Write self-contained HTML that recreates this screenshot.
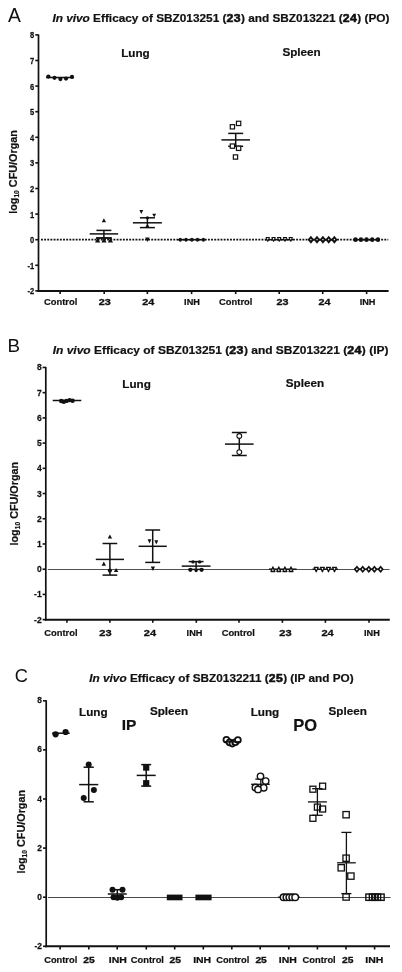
<!DOCTYPE html>
<html><head><meta charset="utf-8"><style>
html,body{margin:0;padding:0;background:#fff;overflow:hidden;width:402px;height:972px;}
svg{display:block;font-family:"Liberation Sans", sans-serif;will-change:transform;}
text{fill:#111;}
text[font-weight=bold]:not([stroke]){stroke:#111;stroke-width:0.2px;}
.num{font-size:11.4px;stroke:#111;stroke-width:0.6px;letter-spacing:0.4px;}
</style></head><body>
<svg width="402" height="972" viewBox="0 0 402 972">
<rect width="402" height="972" fill="#fff"/>
<text x="8.00" y="21.70" font-size="19.3" font-weight="normal" text-anchor="start"  style="">A</text>
<text transform="translate(52.4,22.4) scale(1.076,1)" font-size="11" font-weight="bold"><tspan font-style="italic">In vivo</tspan> Efficacy of SBZ013251 (<tspan class="num">23</tspan>) and SBZ013221 (<tspan class="num">24</tspan>) (PO)</text>
<line x1="38.50" y1="34.40" x2="38.50" y2="291.90" stroke="#111" stroke-width="1.7" />
<line x1="35.30" y1="34.90" x2="38.50" y2="34.90" stroke="#111" stroke-width="1.6" />
<text transform="translate(34.30,38.42) scale(0.86,1)" text-anchor="end" font-size="8.8" font-weight="bold" stroke="#111" stroke-width="0.25">8</text>
<line x1="35.30" y1="60.50" x2="38.50" y2="60.50" stroke="#111" stroke-width="1.6" />
<text transform="translate(34.30,64.02) scale(0.86,1)" text-anchor="end" font-size="8.8" font-weight="bold" stroke="#111" stroke-width="0.25">7</text>
<line x1="35.30" y1="86.10" x2="38.50" y2="86.10" stroke="#111" stroke-width="1.6" />
<text transform="translate(34.30,89.62) scale(0.86,1)" text-anchor="end" font-size="8.8" font-weight="bold" stroke="#111" stroke-width="0.25">6</text>
<line x1="35.30" y1="111.70" x2="38.50" y2="111.70" stroke="#111" stroke-width="1.6" />
<text transform="translate(34.30,115.22) scale(0.86,1)" text-anchor="end" font-size="8.8" font-weight="bold" stroke="#111" stroke-width="0.25">5</text>
<line x1="35.30" y1="137.30" x2="38.50" y2="137.30" stroke="#111" stroke-width="1.6" />
<text transform="translate(34.30,140.82) scale(0.86,1)" text-anchor="end" font-size="8.8" font-weight="bold" stroke="#111" stroke-width="0.25">4</text>
<line x1="35.30" y1="162.90" x2="38.50" y2="162.90" stroke="#111" stroke-width="1.6" />
<text transform="translate(34.30,166.42) scale(0.86,1)" text-anchor="end" font-size="8.8" font-weight="bold" stroke="#111" stroke-width="0.25">3</text>
<line x1="35.30" y1="188.50" x2="38.50" y2="188.50" stroke="#111" stroke-width="1.6" />
<text transform="translate(34.30,192.02) scale(0.86,1)" text-anchor="end" font-size="8.8" font-weight="bold" stroke="#111" stroke-width="0.25">2</text>
<line x1="35.30" y1="214.10" x2="38.50" y2="214.10" stroke="#111" stroke-width="1.6" />
<text transform="translate(34.30,217.62) scale(0.86,1)" text-anchor="end" font-size="8.8" font-weight="bold" stroke="#111" stroke-width="0.25">1</text>
<line x1="35.30" y1="239.70" x2="38.50" y2="239.70" stroke="#111" stroke-width="1.6" />
<text transform="translate(34.30,243.22) scale(0.86,1)" text-anchor="end" font-size="8.8" font-weight="bold" stroke="#111" stroke-width="0.25">0</text>
<line x1="35.30" y1="265.30" x2="38.50" y2="265.30" stroke="#111" stroke-width="1.6" />
<text transform="translate(34.30,268.82) scale(0.86,1)" text-anchor="end" font-size="8.8" font-weight="bold" stroke="#111" stroke-width="0.25">-1</text>
<line x1="35.30" y1="290.90" x2="38.50" y2="290.90" stroke="#111" stroke-width="1.6" />
<text transform="translate(34.30,294.42) scale(0.86,1)" text-anchor="end" font-size="8.8" font-weight="bold" stroke="#111" stroke-width="0.25">-2</text>
<line x1="37.50" y1="290.90" x2="388.60" y2="290.90" stroke="#111" stroke-width="2" />
<line x1="60.10" y1="290.90" x2="60.10" y2="294.10" stroke="#111" stroke-width="1.6" />
<line x1="104.20" y1="290.90" x2="104.20" y2="294.10" stroke="#111" stroke-width="1.6" />
<line x1="147.40" y1="290.90" x2="147.40" y2="294.10" stroke="#111" stroke-width="1.6" />
<line x1="191.60" y1="290.90" x2="191.60" y2="294.10" stroke="#111" stroke-width="1.6" />
<line x1="235.70" y1="290.90" x2="235.70" y2="294.10" stroke="#111" stroke-width="1.6" />
<line x1="279.20" y1="290.90" x2="279.20" y2="294.10" stroke="#111" stroke-width="1.6" />
<line x1="322.70" y1="290.90" x2="322.70" y2="294.10" stroke="#111" stroke-width="1.6" />
<line x1="366.60" y1="290.90" x2="366.60" y2="294.10" stroke="#111" stroke-width="1.6" />
<text x="60.65" y="305.40" font-size="9.4" font-weight="bold" text-anchor="middle"  style="">Control</text>
<text transform="translate(104.70,304.70) scale(1.2,1)" font-size="9.0" font-weight="bold" text-anchor="middle" stroke="#111" stroke-width="0.3">23</text>
<text transform="translate(148.30,304.70) scale(1.2,1)" font-size="9.0" font-weight="bold" text-anchor="middle" stroke="#111" stroke-width="0.3">24</text>
<text x="192.00" y="305.40" font-size="9.2" font-weight="bold" text-anchor="middle"  style="">INH</text>
<text x="235.70" y="305.40" font-size="9.4" font-weight="bold" text-anchor="middle"  style="">Control</text>
<text transform="translate(282.40,304.70) scale(1.2,1)" font-size="9.0" font-weight="bold" text-anchor="middle" stroke="#111" stroke-width="0.3">23</text>
<text transform="translate(324.40,304.70) scale(1.2,1)" font-size="9.0" font-weight="bold" text-anchor="middle" stroke="#111" stroke-width="0.3">24</text>
<text x="367.60" y="305.40" font-size="9.2" font-weight="bold" text-anchor="middle"  style="">INH</text>
<text transform="translate(17.20,172.00) rotate(-90)" text-anchor="middle" font-size="10.8" font-weight="bold">log<tspan font-size="6.70" dy="1.84">10</tspan><tspan dy="-1.84"> CFU/Organ</tspan></text>
<text transform="translate(121.20,56.70) scale(1.045,1)" font-size="11.2" font-weight="bold">Lung</text>
<text transform="translate(282.40,56.40) scale(1.045,1)" font-size="11.2" font-weight="bold">Spleen</text>
<line x1="41.00" y1="239.70" x2="388.30" y2="239.70" stroke="#111" stroke-width="1.8" stroke-dasharray="1.9 1.25"/>
<line x1="46.00" y1="77.50" x2="73.80" y2="77.50" stroke="#111" stroke-width="1.5" />
<circle cx="48.40" cy="76.60" r="2.1" fill="#111"/>
<circle cx="54.50" cy="77.80" r="2.1" fill="#111"/>
<circle cx="60.40" cy="79.10" r="2.1" fill="#111"/>
<circle cx="66.00" cy="78.60" r="2.1" fill="#111"/>
<circle cx="72.00" cy="76.90" r="2.1" fill="#111"/>
<line x1="103.90" y1="230.40" x2="103.90" y2="238.00" stroke="#111" stroke-width="1.5" />
<line x1="96.40" y1="230.40" x2="111.40" y2="230.40" stroke="#111" stroke-width="1.5" />
<line x1="96.40" y1="238.00" x2="111.40" y2="238.00" stroke="#111" stroke-width="1.5" />
<line x1="89.65" y1="233.90" x2="118.15" y2="233.90" stroke="#111" stroke-width="1.5" />
<polygon points="101.75,222.20 106.05,222.20 103.90,218.20" fill="#111" />
<line x1="96.00" y1="238.00" x2="112.00" y2="238.00" stroke="#111" stroke-width="1.5" />
<polygon points="95.00,242.54 100.20,242.54 97.60,237.86" fill="#111" />
<polygon points="101.40,242.54 106.60,242.54 104.00,237.86" fill="#111" />
<polygon points="107.80,242.54 113.00,242.54 110.40,237.86" fill="#111" />
<line x1="147.40" y1="217.80" x2="147.40" y2="227.60" stroke="#111" stroke-width="1.5" />
<line x1="139.90" y1="217.80" x2="154.90" y2="217.80" stroke="#111" stroke-width="1.5" />
<line x1="139.90" y1="227.60" x2="154.90" y2="227.60" stroke="#111" stroke-width="1.5" />
<line x1="132.90" y1="222.80" x2="161.90" y2="222.80" stroke="#111" stroke-width="1.5" />
<polygon points="139.40,210.00 143.20,210.00 141.30,214.00" fill="#111" />
<polygon points="152.20,213.70 156.20,213.70 154.20,217.30" fill="#111" />
<circle cx="147.40" cy="217.80" r="1.6" fill="#111"/>
<circle cx="147.40" cy="226.50" r="1.6" fill="#111"/>
<polygon points="145.20,237.50 149.60,237.50 147.40,242.10" fill="#111" />
<line x1="177.50" y1="239.70" x2="205.50" y2="239.70" stroke="#111" stroke-width="1.5" />
<ellipse cx="180.30" cy="239.70" rx="1.6" ry="2.0" fill="#111"/>
<ellipse cx="186.00" cy="239.70" rx="1.6" ry="2.0" fill="#111"/>
<ellipse cx="191.90" cy="239.70" rx="1.6" ry="2.0" fill="#111"/>
<ellipse cx="197.50" cy="239.70" rx="1.6" ry="2.0" fill="#111"/>
<ellipse cx="203.40" cy="239.70" rx="1.6" ry="2.0" fill="#111"/>
<line x1="235.70" y1="133.40" x2="235.70" y2="146.30" stroke="#111" stroke-width="1.5" />
<line x1="228.20" y1="133.40" x2="243.20" y2="133.40" stroke="#111" stroke-width="1.5" />
<line x1="228.20" y1="146.30" x2="243.20" y2="146.30" stroke="#111" stroke-width="1.5" />
<line x1="221.40" y1="139.90" x2="250.00" y2="139.90" stroke="#111" stroke-width="1.5" />
<rect x="230.25" y="124.65" width="4.3" height="4.3" fill="#fff" stroke="#111" stroke-width="1.2"/>
<rect x="236.45" y="121.25" width="4.3" height="4.3" fill="#fff" stroke="#111" stroke-width="1.2"/>
<rect x="230.25" y="143.95" width="4.3" height="4.3" fill="#fff" stroke="#111" stroke-width="1.2"/>
<rect x="236.45" y="146.15" width="4.3" height="4.3" fill="#fff" stroke="#111" stroke-width="1.2"/>
<rect x="233.35" y="154.85" width="4.3" height="4.3" fill="#fff" stroke="#111" stroke-width="1.2"/>
<line x1="265.00" y1="239.70" x2="293.00" y2="239.70" stroke="#111" stroke-width="1.5" />
<polygon points="266.15,237.45 269.45,237.45 267.80,241.35" fill="#fff" stroke="#111" stroke-width="1.05" stroke-linejoin="round"/>
<polygon points="271.95,237.45 275.25,237.45 273.60,241.35" fill="#fff" stroke="#111" stroke-width="1.05" stroke-linejoin="round"/>
<polygon points="277.55,237.45 280.85,237.45 279.20,241.35" fill="#fff" stroke="#111" stroke-width="1.05" stroke-linejoin="round"/>
<polygon points="283.35,237.45 286.65,237.45 285.00,241.35" fill="#fff" stroke="#111" stroke-width="1.05" stroke-linejoin="round"/>
<polygon points="289.15,237.45 292.45,237.45 290.80,241.35" fill="#fff" stroke="#111" stroke-width="1.05" stroke-linejoin="round"/>
<line x1="309.00" y1="239.70" x2="336.00" y2="239.70" stroke="#111" stroke-width="1.5" />
<polygon points="308.90,239.70 310.90,237.20 312.90,239.70 310.90,242.20" fill="#fff" stroke="#111" stroke-width="1.9"/>
<polygon points="315.00,239.70 317.00,237.20 319.00,239.70 317.00,242.20" fill="#fff" stroke="#111" stroke-width="1.9"/>
<polygon points="320.90,239.70 322.90,237.20 324.90,239.70 322.90,242.20" fill="#fff" stroke="#111" stroke-width="1.9"/>
<polygon points="326.70,239.70 328.70,237.20 330.70,239.70 328.70,242.20" fill="#fff" stroke="#111" stroke-width="1.9"/>
<polygon points="332.40,239.70 334.40,237.20 336.40,239.70 334.40,242.20" fill="#fff" stroke="#111" stroke-width="1.9"/>
<line x1="353.00" y1="239.70" x2="380.00" y2="239.70" stroke="#111" stroke-width="1.5" />
<ellipse cx="355.50" cy="239.70" rx="2.2" ry="2.4" fill="#111"/>
<ellipse cx="360.90" cy="239.70" rx="2.2" ry="2.4" fill="#111"/>
<ellipse cx="366.50" cy="239.70" rx="2.2" ry="2.4" fill="#111"/>
<ellipse cx="372.20" cy="239.70" rx="2.2" ry="2.4" fill="#111"/>
<ellipse cx="378.00" cy="239.70" rx="2.2" ry="2.4" fill="#111"/>
<text x="7.60" y="351.90" font-size="18.8" font-weight="normal" text-anchor="start"  style="">B</text>
<text transform="translate(52.7,353.5) scale(1.09,1)" font-size="11" font-weight="bold"><tspan font-style="italic">In vivo</tspan> Efficacy of SBZ013251 (<tspan class="num">23</tspan>) and SBZ013221 (<tspan class="num">24</tspan>) (IP)</text>
<line x1="45.80" y1="366.94" x2="45.80" y2="620.64" stroke="#111" stroke-width="1.7" />
<line x1="42.60" y1="367.44" x2="45.80" y2="367.44" stroke="#111" stroke-width="1.6" />
<text transform="translate(41.70,370.41) scale(0.95,1)" text-anchor="end" font-size="9.0" font-weight="bold" stroke="#111" stroke-width="0.25">8</text>
<line x1="42.60" y1="392.66" x2="45.80" y2="392.66" stroke="#111" stroke-width="1.6" />
<text transform="translate(41.70,395.63) scale(0.95,1)" text-anchor="end" font-size="9.0" font-weight="bold" stroke="#111" stroke-width="0.25">7</text>
<line x1="42.60" y1="417.88" x2="45.80" y2="417.88" stroke="#111" stroke-width="1.6" />
<text transform="translate(41.70,420.85) scale(0.95,1)" text-anchor="end" font-size="9.0" font-weight="bold" stroke="#111" stroke-width="0.25">6</text>
<line x1="42.60" y1="443.10" x2="45.80" y2="443.10" stroke="#111" stroke-width="1.6" />
<text transform="translate(41.70,446.07) scale(0.95,1)" text-anchor="end" font-size="9.0" font-weight="bold" stroke="#111" stroke-width="0.25">5</text>
<line x1="42.60" y1="468.32" x2="45.80" y2="468.32" stroke="#111" stroke-width="1.6" />
<text transform="translate(41.70,471.29) scale(0.95,1)" text-anchor="end" font-size="9.0" font-weight="bold" stroke="#111" stroke-width="0.25">4</text>
<line x1="42.60" y1="493.54" x2="45.80" y2="493.54" stroke="#111" stroke-width="1.6" />
<text transform="translate(41.70,496.51) scale(0.95,1)" text-anchor="end" font-size="9.0" font-weight="bold" stroke="#111" stroke-width="0.25">3</text>
<line x1="42.60" y1="518.76" x2="45.80" y2="518.76" stroke="#111" stroke-width="1.6" />
<text transform="translate(41.70,521.73) scale(0.95,1)" text-anchor="end" font-size="9.0" font-weight="bold" stroke="#111" stroke-width="0.25">2</text>
<line x1="42.60" y1="543.98" x2="45.80" y2="543.98" stroke="#111" stroke-width="1.6" />
<text transform="translate(41.70,546.95) scale(0.95,1)" text-anchor="end" font-size="9.0" font-weight="bold" stroke="#111" stroke-width="0.25">1</text>
<line x1="42.60" y1="569.20" x2="45.80" y2="569.20" stroke="#111" stroke-width="1.6" />
<text transform="translate(41.70,572.17) scale(0.95,1)" text-anchor="end" font-size="9.0" font-weight="bold" stroke="#111" stroke-width="0.25">0</text>
<line x1="42.60" y1="594.42" x2="45.80" y2="594.42" stroke="#111" stroke-width="1.6" />
<text transform="translate(41.70,597.39) scale(0.95,1)" text-anchor="end" font-size="9.0" font-weight="bold" stroke="#111" stroke-width="0.25">-1</text>
<line x1="42.60" y1="619.64" x2="45.80" y2="619.64" stroke="#111" stroke-width="1.6" />
<text transform="translate(41.70,622.61) scale(0.95,1)" text-anchor="end" font-size="9.0" font-weight="bold" stroke="#111" stroke-width="0.25">-2</text>
<line x1="44.80" y1="619.64" x2="389.80" y2="619.64" stroke="#111" stroke-width="2" />
<line x1="66.90" y1="619.64" x2="66.90" y2="622.84" stroke="#111" stroke-width="1.6" />
<line x1="109.90" y1="619.64" x2="109.90" y2="622.84" stroke="#111" stroke-width="1.6" />
<line x1="152.80" y1="619.64" x2="152.80" y2="622.84" stroke="#111" stroke-width="1.6" />
<line x1="196.30" y1="619.64" x2="196.30" y2="622.84" stroke="#111" stroke-width="1.6" />
<line x1="239.00" y1="619.64" x2="239.00" y2="622.84" stroke="#111" stroke-width="1.6" />
<line x1="282.40" y1="619.64" x2="282.40" y2="622.84" stroke="#111" stroke-width="1.6" />
<line x1="325.40" y1="619.64" x2="325.40" y2="622.84" stroke="#111" stroke-width="1.6" />
<line x1="369.00" y1="619.64" x2="369.00" y2="622.84" stroke="#111" stroke-width="1.6" />
<text x="60.90" y="636.40" font-size="9.4" font-weight="bold" text-anchor="middle"  style="">Control</text>
<text transform="translate(105.50,636.30) scale(1.2,1)" font-size="9.2" font-weight="bold" text-anchor="middle" stroke="#111" stroke-width="0.3">23</text>
<text transform="translate(150.00,636.30) scale(1.2,1)" font-size="9.2" font-weight="bold" text-anchor="middle" stroke="#111" stroke-width="0.3">24</text>
<text x="194.50" y="636.40" font-size="9.2" font-weight="bold" text-anchor="middle"  style="">INH</text>
<text x="238.30" y="636.40" font-size="9.4" font-weight="bold" text-anchor="middle"  style="">Control</text>
<text transform="translate(285.50,636.30) scale(1.2,1)" font-size="9.2" font-weight="bold" text-anchor="middle" stroke="#111" stroke-width="0.3">23</text>
<text transform="translate(327.60,636.30) scale(1.2,1)" font-size="9.2" font-weight="bold" text-anchor="middle" stroke="#111" stroke-width="0.3">24</text>
<text x="371.90" y="636.40" font-size="9.2" font-weight="bold" text-anchor="middle"  style="">INH</text>
<text transform="translate(18.20,503.70) rotate(-90)" text-anchor="middle" font-size="10.8" font-weight="bold">log<tspan font-size="6.70" dy="1.84">10</tspan><tspan dy="-1.84"> CFU/Organ</tspan></text>
<text transform="translate(122.30,387.50) scale(1.045,1)" font-size="11.2" font-weight="bold">Lung</text>
<text transform="translate(285.80,387.20) scale(1.045,1)" font-size="11.2" font-weight="bold">Spleen</text>
<line x1="47.80" y1="569.50" x2="389.60" y2="569.50" stroke="#505050" stroke-width="1.0" />
<line x1="52.70" y1="400.50" x2="81.30" y2="400.50" stroke="#111" stroke-width="1.5" />
<circle cx="61.20" cy="401.00" r="2.2" fill="#111"/>
<circle cx="63.80" cy="401.80" r="2.2" fill="#111"/>
<circle cx="66.60" cy="400.90" r="2.2" fill="#111"/>
<circle cx="69.60" cy="400.10" r="2.2" fill="#111"/>
<circle cx="72.60" cy="400.70" r="2.2" fill="#111"/>
<line x1="109.90" y1="543.50" x2="109.90" y2="575.10" stroke="#111" stroke-width="1.5" />
<line x1="102.55" y1="543.50" x2="117.25" y2="543.50" stroke="#111" stroke-width="1.5" />
<line x1="102.55" y1="575.10" x2="117.25" y2="575.10" stroke="#111" stroke-width="1.5" />
<line x1="95.80" y1="559.40" x2="124.00" y2="559.40" stroke="#111" stroke-width="1.5" />
<polygon points="107.70,538.60 112.10,538.60 109.90,534.40" fill="#111" />
<polygon points="101.60,565.70 106.00,565.70 103.80,561.50" fill="#111" />
<polygon points="113.90,572.10 118.30,572.10 116.10,567.90" fill="#111" />
<circle cx="109.90" cy="570.60" r="2.1" fill="#111"/>
<line x1="152.70" y1="530.00" x2="152.70" y2="562.40" stroke="#111" stroke-width="1.5" />
<line x1="145.25" y1="530.00" x2="160.15" y2="530.00" stroke="#111" stroke-width="1.5" />
<line x1="145.25" y1="562.40" x2="160.15" y2="562.40" stroke="#111" stroke-width="1.5" />
<line x1="138.60" y1="546.30" x2="166.80" y2="546.30" stroke="#111" stroke-width="1.5" />
<polygon points="147.60,539.20 151.40,539.20 149.50,543.40" fill="#111" />
<polygon points="154.40,540.30 158.20,540.30 156.30,544.50" fill="#111" />
<polygon points="150.80,566.50 155.00,566.50 152.90,571.10" fill="#111" />
<line x1="196.10" y1="561.60" x2="196.10" y2="569.40" stroke="#111" stroke-width="1.5" />
<line x1="188.70" y1="561.60" x2="203.50" y2="561.60" stroke="#111" stroke-width="1.5" />
<line x1="188.70" y1="569.40" x2="203.50" y2="569.40" stroke="#111" stroke-width="1.5" />
<line x1="181.70" y1="566.10" x2="210.50" y2="566.10" stroke="#111" stroke-width="1.5" />
<circle cx="193.00" cy="561.90" r="1.7" fill="#111"/>
<circle cx="199.60" cy="561.90" r="1.7" fill="#111"/>
<circle cx="190.30" cy="569.80" r="2.1" fill="#111"/>
<circle cx="201.60" cy="569.80" r="2.1" fill="#111"/>
<circle cx="196.10" cy="570.60" r="1.6" fill="#111"/>
<line x1="239.30" y1="432.50" x2="239.30" y2="455.50" stroke="#111" stroke-width="1.5" />
<line x1="231.85" y1="432.50" x2="246.75" y2="432.50" stroke="#111" stroke-width="1.5" />
<line x1="231.85" y1="455.50" x2="246.75" y2="455.50" stroke="#111" stroke-width="1.5" />
<line x1="225.00" y1="444.10" x2="253.60" y2="444.10" stroke="#111" stroke-width="1.5" />
<circle cx="239.30" cy="436.00" r="2.4" fill="#fff" stroke="#111" stroke-width="1.1"/>
<circle cx="239.30" cy="452.10" r="2.4" fill="#fff" stroke="#111" stroke-width="1.1"/>
<line x1="269.00" y1="569.20" x2="296.60" y2="569.20" stroke="#111" stroke-width="1.5" />
<polygon points="270.95,571.50 274.85,571.50 272.90,566.90" fill="#fff" stroke="#111" stroke-width="1.3" stroke-linejoin="round"/>
<polygon points="276.85,571.50 280.75,571.50 278.80,566.90" fill="#fff" stroke="#111" stroke-width="1.3" stroke-linejoin="round"/>
<polygon points="282.95,571.50 286.85,571.50 284.90,566.90" fill="#fff" stroke="#111" stroke-width="1.3" stroke-linejoin="round"/>
<polygon points="289.05,571.50 292.95,571.50 291.00,566.90" fill="#fff" stroke="#111" stroke-width="1.3" stroke-linejoin="round"/>
<line x1="312.50" y1="569.20" x2="338.00" y2="569.20" stroke="#111" stroke-width="1.5" />
<polygon points="314.25,567.30 318.15,567.30 316.20,571.70" fill="#fff" stroke="#111" stroke-width="1.3" stroke-linejoin="round"/>
<polygon points="320.45,567.30 324.35,567.30 322.40,571.70" fill="#fff" stroke="#111" stroke-width="1.3" stroke-linejoin="round"/>
<polygon points="326.55,567.30 330.45,567.30 328.50,571.70" fill="#fff" stroke="#111" stroke-width="1.3" stroke-linejoin="round"/>
<polygon points="332.55,567.30 336.45,567.30 334.50,571.70" fill="#fff" stroke="#111" stroke-width="1.3" stroke-linejoin="round"/>
<line x1="354.00" y1="569.20" x2="383.00" y2="569.20" stroke="#111" stroke-width="1.5" />
<polygon points="354.80,569.20 356.90,566.70 359.00,569.20 356.90,571.70" fill="#fff" stroke="#111" stroke-width="1.7"/>
<polygon points="360.60,569.20 362.70,566.70 364.80,569.20 362.70,571.70" fill="#fff" stroke="#111" stroke-width="1.7"/>
<polygon points="366.70,569.20 368.80,566.70 370.90,569.20 368.80,571.70" fill="#fff" stroke="#111" stroke-width="1.7"/>
<polygon points="372.30,569.20 374.40,566.70 376.50,569.20 374.40,571.70" fill="#fff" stroke="#111" stroke-width="1.7"/>
<polygon points="378.50,569.20 380.60,566.70 382.70,569.20 380.60,571.70" fill="#fff" stroke="#111" stroke-width="1.7"/>
<text x="14.80" y="681.60" font-size="18.2" font-weight="normal" text-anchor="start"  style="">C</text>
<text transform="translate(89.3,681.8) scale(1.072,1)" font-size="11" font-weight="bold"><tspan font-style="italic">In vivo</tspan> Efficacy of SBZ0132211 (<tspan class="num">25</tspan>) (IP and PO)</text>
<line x1="46.20" y1="700.30" x2="46.20" y2="947.30" stroke="#111" stroke-width="1.7" />
<line x1="43.00" y1="700.80" x2="46.20" y2="700.80" stroke="#111" stroke-width="1.6" />
<text transform="translate(41.90,703.35) scale(0.95,1)" text-anchor="end" font-size="8.8" font-weight="bold" stroke="#111" stroke-width="0.25">8</text>
<line x1="43.00" y1="749.90" x2="46.20" y2="749.90" stroke="#111" stroke-width="1.6" />
<text transform="translate(41.90,752.45) scale(0.95,1)" text-anchor="end" font-size="8.8" font-weight="bold" stroke="#111" stroke-width="0.25">6</text>
<line x1="43.00" y1="799.00" x2="46.20" y2="799.00" stroke="#111" stroke-width="1.6" />
<text transform="translate(41.90,801.55) scale(0.95,1)" text-anchor="end" font-size="8.8" font-weight="bold" stroke="#111" stroke-width="0.25">4</text>
<line x1="43.00" y1="848.10" x2="46.20" y2="848.10" stroke="#111" stroke-width="1.6" />
<text transform="translate(41.90,850.65) scale(0.95,1)" text-anchor="end" font-size="8.8" font-weight="bold" stroke="#111" stroke-width="0.25">2</text>
<line x1="43.00" y1="897.20" x2="46.20" y2="897.20" stroke="#111" stroke-width="1.6" />
<text transform="translate(41.90,899.75) scale(0.95,1)" text-anchor="end" font-size="8.8" font-weight="bold" stroke="#111" stroke-width="0.25">0</text>
<line x1="43.00" y1="946.30" x2="46.20" y2="946.30" stroke="#111" stroke-width="1.6" />
<text transform="translate(41.90,948.85) scale(0.95,1)" text-anchor="end" font-size="8.8" font-weight="bold" stroke="#111" stroke-width="0.25">-2</text>
<line x1="45.20" y1="946.30" x2="390.00" y2="946.30" stroke="#111" stroke-width="2" />
<line x1="60.10" y1="946.30" x2="60.10" y2="949.50" stroke="#111" stroke-width="1.6" />
<line x1="88.80" y1="946.30" x2="88.80" y2="949.50" stroke="#111" stroke-width="1.6" />
<line x1="117.20" y1="946.30" x2="117.20" y2="949.50" stroke="#111" stroke-width="1.6" />
<line x1="146.30" y1="946.30" x2="146.30" y2="949.50" stroke="#111" stroke-width="1.6" />
<line x1="174.70" y1="946.30" x2="174.70" y2="949.50" stroke="#111" stroke-width="1.6" />
<line x1="203.30" y1="946.30" x2="203.30" y2="949.50" stroke="#111" stroke-width="1.6" />
<line x1="231.80" y1="946.30" x2="231.80" y2="949.50" stroke="#111" stroke-width="1.6" />
<line x1="260.20" y1="946.30" x2="260.20" y2="949.50" stroke="#111" stroke-width="1.6" />
<line x1="288.80" y1="946.30" x2="288.80" y2="949.50" stroke="#111" stroke-width="1.6" />
<line x1="317.40" y1="946.30" x2="317.40" y2="949.50" stroke="#111" stroke-width="1.6" />
<line x1="346.00" y1="946.30" x2="346.00" y2="949.50" stroke="#111" stroke-width="1.6" />
<line x1="374.60" y1="946.30" x2="374.60" y2="949.50" stroke="#111" stroke-width="1.6" />
<text transform="translate(60.70,963.10) scale(1.0,1)" font-size="9.3" font-weight="bold" text-anchor="middle">Control</text>
<text transform="translate(88.90,962.90) scale(1.25,1)" font-size="8.2" font-weight="bold" text-anchor="middle" stroke="#111" stroke-width="0.3">25</text>
<text transform="translate(117.85,962.90) scale(1.28,1)" font-size="8.2" font-weight="bold" text-anchor="middle" stroke="#111" stroke-width="0.2">INH</text>
<text transform="translate(147.40,963.10) scale(1.0,1)" font-size="9.3" font-weight="bold" text-anchor="middle">Control</text>
<text transform="translate(175.30,962.90) scale(1.25,1)" font-size="8.2" font-weight="bold" text-anchor="middle" stroke="#111" stroke-width="0.3">25</text>
<text transform="translate(202.15,962.90) scale(1.28,1)" font-size="8.2" font-weight="bold" text-anchor="middle" stroke="#111" stroke-width="0.2">INH</text>
<text transform="translate(232.70,963.10) scale(1.0,1)" font-size="9.3" font-weight="bold" text-anchor="middle">Control</text>
<text transform="translate(261.10,962.90) scale(1.25,1)" font-size="8.2" font-weight="bold" text-anchor="middle" stroke="#111" stroke-width="0.3">25</text>
<text transform="translate(287.75,962.90) scale(1.28,1)" font-size="8.2" font-weight="bold" text-anchor="middle" stroke="#111" stroke-width="0.2">INH</text>
<text transform="translate(319.15,963.10) scale(1.0,1)" font-size="9.3" font-weight="bold" text-anchor="middle">Control</text>
<text transform="translate(347.65,962.90) scale(1.25,1)" font-size="8.2" font-weight="bold" text-anchor="middle" stroke="#111" stroke-width="0.3">25</text>
<text transform="translate(374.25,962.90) scale(1.28,1)" font-size="8.2" font-weight="bold" text-anchor="middle" stroke="#111" stroke-width="0.2">INH</text>
<text transform="translate(25.30,831.80) rotate(-90)" text-anchor="middle" font-size="10.8" font-weight="bold">log<tspan font-size="6.70" dy="1.84">10</tspan><tspan dy="-1.84"> CFU/Organ</tspan></text>
<text transform="translate(79.00,715.70) scale(1.045,1)" font-size="11.2" font-weight="bold">Lung</text>
<text x="121.80" y="730.30" font-size="15.5" font-weight="bold" text-anchor="start"  style="">IP</text>
<text transform="translate(149.90,715.10) scale(1.045,1)" font-size="11.2" font-weight="bold">Spleen</text>
<text transform="translate(250.70,715.70) scale(1.045,1)" font-size="11.2" font-weight="bold">Lung</text>
<text x="293.20" y="730.60" font-size="16.5" font-weight="bold" text-anchor="start"  style="">PO</text>
<text transform="translate(328.50,715.10) scale(1.045,1)" font-size="11.2" font-weight="bold">Spleen</text>
<line x1="48.00" y1="897.50" x2="390.60" y2="897.50" stroke="#4a4a4a" stroke-width="1.0" />
<line x1="52.10" y1="733.20" x2="69.70" y2="733.20" stroke="#111" stroke-width="1.5" />
<circle cx="55.60" cy="734.30" r="3.1" fill="#111"/>
<circle cx="65.60" cy="732.00" r="3.1" fill="#111"/>
<line x1="88.70" y1="767.20" x2="88.70" y2="801.80" stroke="#111" stroke-width="1.5" />
<line x1="83.60" y1="767.20" x2="93.80" y2="767.20" stroke="#111" stroke-width="1.5" />
<line x1="83.60" y1="801.80" x2="93.80" y2="801.80" stroke="#111" stroke-width="1.5" />
<line x1="79.15" y1="784.60" x2="98.25" y2="784.60" stroke="#111" stroke-width="1.5" />
<circle cx="88.70" cy="764.60" r="3.0" fill="#111"/>
<circle cx="93.90" cy="790.00" r="3.0" fill="#111"/>
<circle cx="83.70" cy="798.10" r="3.0" fill="#111"/>
<line x1="117.30" y1="889.70" x2="117.30" y2="897.00" stroke="#111" stroke-width="1.5" />
<line x1="112.30" y1="889.70" x2="122.30" y2="889.70" stroke="#111" stroke-width="1.5" />
<line x1="112.30" y1="897.00" x2="122.30" y2="897.00" stroke="#111" stroke-width="1.5" />
<line x1="107.80" y1="894.00" x2="126.80" y2="894.00" stroke="#111" stroke-width="1.5" />
<circle cx="112.50" cy="889.70" r="3.0" fill="#111"/>
<circle cx="122.50" cy="889.70" r="3.0" fill="#111"/>
<circle cx="113.50" cy="897.30" r="3.0" fill="#111"/>
<circle cx="117.30" cy="897.80" r="3.0" fill="#111"/>
<circle cx="121.20" cy="897.30" r="3.0" fill="#111"/>
<line x1="146.20" y1="764.60" x2="146.20" y2="786.10" stroke="#111" stroke-width="1.5" />
<line x1="141.20" y1="764.60" x2="151.20" y2="764.60" stroke="#111" stroke-width="1.5" />
<line x1="141.20" y1="786.10" x2="151.20" y2="786.10" stroke="#111" stroke-width="1.5" />
<line x1="136.70" y1="775.40" x2="155.70" y2="775.40" stroke="#111" stroke-width="1.5" />
<rect x="143.10" y="764.50" width="6.2" height="6.2" fill="#111"/>
<rect x="143.10" y="780.10" width="6.2" height="6.2" fill="#111"/>
<rect x="166.8" y="894.6" width="15.7" height="5.7" fill="#111"/>
<rect x="195.4" y="894.6" width="16.2" height="5.7" fill="#111"/>
<circle cx="226.40" cy="739.80" r="2.9" fill="#fff" stroke="#111" stroke-width="1.8"/>
<circle cx="229.60" cy="742.40" r="2.9" fill="#fff" stroke="#111" stroke-width="1.8"/>
<circle cx="232.40" cy="743.60" r="2.9" fill="#fff" stroke="#111" stroke-width="1.8"/>
<circle cx="235.40" cy="742.30" r="2.9" fill="#fff" stroke="#111" stroke-width="1.8"/>
<circle cx="237.90" cy="740.00" r="2.9" fill="#fff" stroke="#111" stroke-width="1.8"/>
<line x1="224.00" y1="741.80" x2="241.00" y2="741.80" stroke="#111" stroke-width="1.4" />
<line x1="232.40" y1="739.50" x2="232.40" y2="745.00" stroke="#111" stroke-width="1.4" />
<line x1="260.80" y1="779.10" x2="260.80" y2="789.00" stroke="#111" stroke-width="1.3" />
<line x1="255.30" y1="779.10" x2="265.90" y2="779.10" stroke="#111" stroke-width="1.3" />
<line x1="251.10" y1="784.30" x2="269.80" y2="784.30" stroke="#111" stroke-width="1.3" />
<circle cx="260.50" cy="776.30" r="3.2" fill="#fff" stroke="#111" stroke-width="1.4"/>
<circle cx="265.70" cy="781.10" r="3.2" fill="#fff" stroke="#111" stroke-width="1.4"/>
<circle cx="263.70" cy="787.80" r="3.2" fill="#fff" stroke="#111" stroke-width="1.4"/>
<circle cx="255.40" cy="787.50" r="3.2" fill="#fff" stroke="#111" stroke-width="1.4"/>
<circle cx="258.00" cy="789.40" r="3.2" fill="#fff" stroke="#111" stroke-width="1.4"/>
<line x1="278.00" y1="897.20" x2="300.00" y2="897.20" stroke="#111" stroke-width="1.3" />
<circle cx="283.60" cy="897.20" r="3.3" fill="#fff" stroke="#111" stroke-width="1.5"/>
<circle cx="286.50" cy="897.20" r="3.3" fill="#fff" stroke="#111" stroke-width="1.5"/>
<circle cx="289.40" cy="897.20" r="3.3" fill="#fff" stroke="#111" stroke-width="1.5"/>
<circle cx="292.30" cy="897.20" r="3.3" fill="#fff" stroke="#111" stroke-width="1.5"/>
<circle cx="295.20" cy="897.20" r="3.3" fill="#fff" stroke="#111" stroke-width="1.5"/>
<line x1="317.40" y1="788.70" x2="317.40" y2="815.30" stroke="#111" stroke-width="1.3" />
<line x1="312.15" y1="788.70" x2="322.65" y2="788.70" stroke="#111" stroke-width="1.3" />
<line x1="312.15" y1="815.30" x2="322.65" y2="815.30" stroke="#111" stroke-width="1.3" />
<line x1="307.90" y1="801.90" x2="326.90" y2="801.90" stroke="#111" stroke-width="1.3" />
<rect x="309.90" y="786.20" width="6" height="6" fill="none" stroke="#111" stroke-width="1.3"/>
<rect x="319.60" y="783.20" width="6" height="6" fill="none" stroke="#111" stroke-width="1.3"/>
<rect x="314.40" y="804.10" width="6" height="6" fill="none" stroke="#111" stroke-width="1.3"/>
<rect x="319.60" y="806.00" width="6" height="6" fill="none" stroke="#111" stroke-width="1.3"/>
<rect x="309.90" y="815.30" width="6" height="6" fill="none" stroke="#111" stroke-width="1.3"/>
<line x1="346.40" y1="832.40" x2="346.40" y2="893.60" stroke="#111" stroke-width="1.3" />
<line x1="341.35" y1="832.40" x2="351.45" y2="832.40" stroke="#111" stroke-width="1.3" />
<line x1="341.35" y1="893.60" x2="351.45" y2="893.60" stroke="#111" stroke-width="1.3" />
<line x1="337.05" y1="862.80" x2="355.75" y2="862.80" stroke="#111" stroke-width="1.3" />
<rect x="342.95" y="811.55" width="6.3" height="6.3" fill="none" stroke="#111" stroke-width="1.3"/>
<rect x="342.95" y="855.05" width="6.3" height="6.3" fill="none" stroke="#111" stroke-width="1.3"/>
<rect x="338.05" y="864.65" width="6.3" height="6.3" fill="none" stroke="#111" stroke-width="1.3"/>
<rect x="347.75" y="872.95" width="6.3" height="6.3" fill="none" stroke="#111" stroke-width="1.3"/>
<rect x="342.95" y="893.85" width="6.3" height="6.3" fill="none" stroke="#111" stroke-width="1.3"/>
<rect x="365.85" y="894.05" width="6.3" height="6.3" fill="none" stroke="#111" stroke-width="1.4"/>
<rect x="369.35" y="894.05" width="6.3" height="6.3" fill="none" stroke="#111" stroke-width="1.4"/>
<rect x="371.85" y="894.05" width="6.3" height="6.3" fill="none" stroke="#111" stroke-width="1.4"/>
<rect x="374.35" y="894.05" width="6.3" height="6.3" fill="none" stroke="#111" stroke-width="1.4"/>
<rect x="377.85" y="894.05" width="6.3" height="6.3" fill="none" stroke="#111" stroke-width="1.4"/>
</svg></body></html>
